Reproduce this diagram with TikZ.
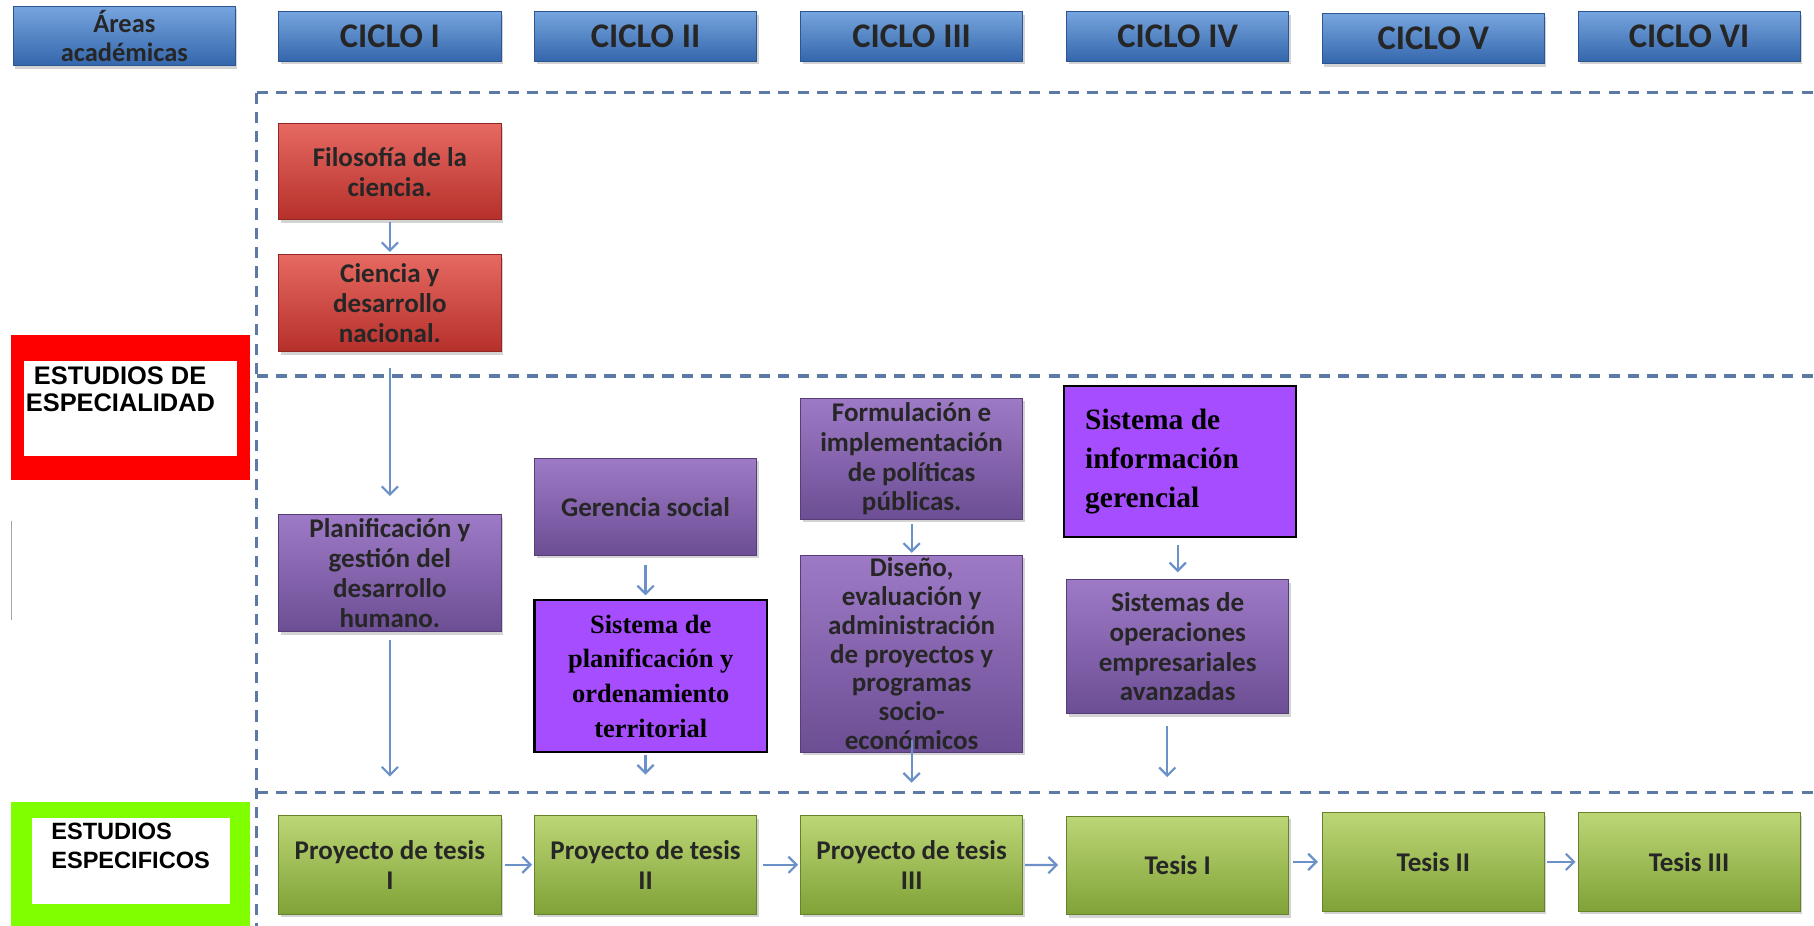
\documentclass[tikz,border=0pt]{standalone}
\usepackage{fontspec}
\usetikzlibrary{arrows.meta,shadows}
\newfontfamily\calibrifont{Carlito}
\newfontfamily\timesfont{Liberation Serif}
\newfontfamily\arialfont{Liberation Sans}
\definecolor{cicloTop}{RGB}{118,165,222}
\definecolor{cicloBot}{RGB}{52,102,172}
\definecolor{cicloEdge}{RGB}{45,85,145}
\definecolor{rojoTop}{RGB}{230,105,98}
\definecolor{rojoBot}{RGB}{182,48,42}
\definecolor{moradoTop}{RGB}{158,122,198}
\definecolor{moradoBot}{RGB}{108,78,148}
\definecolor{verdeTop}{RGB}{188,214,118}
\definecolor{verdeBot}{RGB}{128,162,55}
\definecolor{lila}{RGB}{166,77,255}
\definecolor{marcorojo}{RGB}{255,0,0}
\definecolor{marcoverde}{RGB}{128,255,0}
\definecolor{lineaazul}{RGB}{92,122,165}
\definecolor{flechaazul}{RGB}{108,145,200}

\tikzset{
  caja/.style={rectangle, minimum width=3.84cm, align=flush center, text=black!85, inner sep=2pt,
    font=\calibrifont\bfseries\fontsize{13.3}{14.7}\selectfont,
    drop shadow={opacity=0.35, shadow xshift=1pt, shadow yshift=-1.5pt}},
  ciclo/.style={caja, top color=cicloTop, bottom color=cicloBot, draw=cicloEdge,
    minimum height=0.86cm, font=\calibrifont\bfseries\fontsize{17}{18}\selectfont},
  rojo/.style={caja, top color=rojoTop, bottom color=rojoBot, draw=rojoBot!80!black},
  morado/.style={caja, top color=moradoTop, bottom color=moradoBot, draw=moradoBot!80!black},
  verde/.style={caja, top color=verdeTop, bottom color=verdeBot, draw=verdeBot!80!black,
    minimum height=1.7cm},
  resalte/.style={rectangle, fill=lila, draw=black, line width=1pt, text=black, align=flush center,
    font=\timesfont\bfseries\fontsize{13}{17}\selectfont},
  marcotexto/.style={anchor=north west, align=flush left, inner sep=0pt, text=black,
    font=\arialfont\bfseries\fontsize{12.5}{13}\selectfont},
  flecha/.style={draw=flechaazul, line width=1.1pt, -{Straight Barb[length=4pt,width=8pt]}},
  division/.style={draw=lineaazul, line width=1.5pt, dash pattern=on 5.5pt off 4pt}
}

\begin{document}
\begin{tikzpicture}[x=0.02cm, y=-0.02cm]
  \useasboundingbox (0,0) rectangle (1568,800);

  % zonas
  \draw[division] (222,80) -- (1568,80);
  \draw[division] (222,80) -- (222,800);
  \draw[division] (222,325) -- (1568,325);
  \draw[division] (222,685) -- (1568,685);

  % cabecera
  \node[ciclo, minimum height=0.92cm, font=\calibrifont\bfseries\fontsize{13}{14.2}\selectfont]
       (areas) at (107.5,31) {Áreas\\académicas};
  \node[ciclo] (c1) at (337,31.5)  {CICLO I};
  \node[ciclo] (c2) at (558,31.5)  {CICLO II};
  \node[ciclo] (c3) at (788,31.5)  {CICLO III};
  \node[ciclo] (c4) at (1018,31.5) {CICLO IV};
  \node[ciclo] (c5) at (1239,33.5) {CICLO V};
  \node[ciclo] (c6) at (1460,31.5) {CICLO VI};

  % marcos de la izquierda
  \fill[marcorojo] (9.5,290) rectangle (216,415);
  \fill[white] (20.5,312) rectangle (205,394);
  \node[marcotexto] (especialidad) at (22,317) {\hspace{4pt}ESTUDIOS DE\\ESPECIALIDAD};
  \draw[gray!70, line width=0.8pt] (10,450) -- (10,536);
  \fill[marcoverde] (9.5,693) rectangle (216,800);
  \fill[white] (28,707) rectangle (199,781);
  \node[marcotexto, font=\arialfont\bfseries\fontsize{11.6}{14.2}\selectfont]
       (especificos) at (44,711) {ESTUDIOS\\ESPECIFICOS};

  % cursos
  \node[rojo, minimum height=1.66cm] (fil) at (337,148.5) {Filosofía de la\\ciencia.};
  \node[rojo, minimum height=1.68cm] (cie) at (337,262) {Ciencia y\\desarrollo\\nacional.};
  \node[morado, minimum height=1.98cm] (plan) at (337,495.5)
       {Planificación y\\gestión del\\desarrollo\\humano.};
  \node[morado, minimum height=1.68cm] (ger) at (558,438) {Gerencia social};
  \node[resalte, minimum width=4.02cm, minimum height=2.62cm] (splan) at (562.5,584.5)
       {Sistema de\\planificación y\\ordenamiento\\territorial};
  \node[morado, minimum height=2.06cm] (form) at (788,396.5)
       {Formulación e\\implementación\\de políticas\\públicas.};
  \node[morado, minimum height=3.4cm, inner ysep=0pt,
        font=\calibrifont\bfseries\fontsize{13.3}{14.2}\selectfont] (dis) at (788,565)
       {Diseño,\\evaluación y\\administración\\de proyectos y\\programas\\socio-\\económicos};
  \node[resalte, minimum width=4cm, minimum height=2.6cm, text width=3.28cm, align=flush left,
        font=\timesfont\bfseries\fontsize{14.5}{19.3}\selectfont] (sinf) at (1020,399)
       {Sistema de\\información\\gerencial};
  \node[morado, minimum height=2.32cm] (sop) at (1018,559)
       {Sistemas de\\operaciones\\empresariales\\avanzadas};

  % tesis
  \node[verde] (pt1) at (337,747.5)  {Proyecto de tesis\\I};
  \node[verde] (pt2) at (558,747.5)  {Proyecto de tesis\\II};
  \node[verde] (pt3) at (788,747.5)  {Proyecto de tesis\\III};
  \node[verde] (t1)  at (1018,748)   {Tesis I};
  \node[verde] (t2)  at (1239,745)   {Tesis II};
  \node[verde] (t3)  at (1460,745)   {Tesis III};

  % flechas
  \draw[flecha, shorten <=1pt, shorten >=1pt] (fil) -- (cie);
  \draw[flecha, shorten <=8pt, shorten >=9pt] (cie) -- (plan);
  \draw[flecha, shorten <=4pt, shorten >=19pt] (plan) -- (pt1);
  \draw[flecha, shorten <=4.5pt, shorten >=2pt] (ger) -- (ger |- splan.north);
  \draw[flecha, shorten <=1pt, shorten >=20pt] (splan.south -| pt2) -- (pt2);
  \draw[flecha, shorten <=2pt, shorten >=1pt] (form) -- (dis);
  \draw[flecha, shorten <=-6pt, shorten >=16pt] (dis) -- (pt3);
  \draw[flecha, shorten <=3.4pt, shorten >=3.4pt] (sinf.south -| sop) -- (sop);
  \draw[flecha, shorten <=6pt, shorten >=19pt] ([xshift=-0.18cm]sop.south) -- ([xshift=-0.18cm]t1.north);
  \draw[flecha, shorten <=2pt, shorten >=1pt] (pt1) -- (pt2);
  \draw[flecha, shorten <=3pt, shorten >=1pt] (pt2) -- (pt3);
  \draw[flecha, shorten <=1pt, shorten >=4pt] (pt3) -- (t1);
  \draw[flecha, shorten <=2pt, shorten >=2pt] (t1.east |- t2) -- (t2);
  \draw[flecha, shorten <=1pt, shorten >=1pt] (t2) -- (t3);
\end{tikzpicture}
\end{document}
